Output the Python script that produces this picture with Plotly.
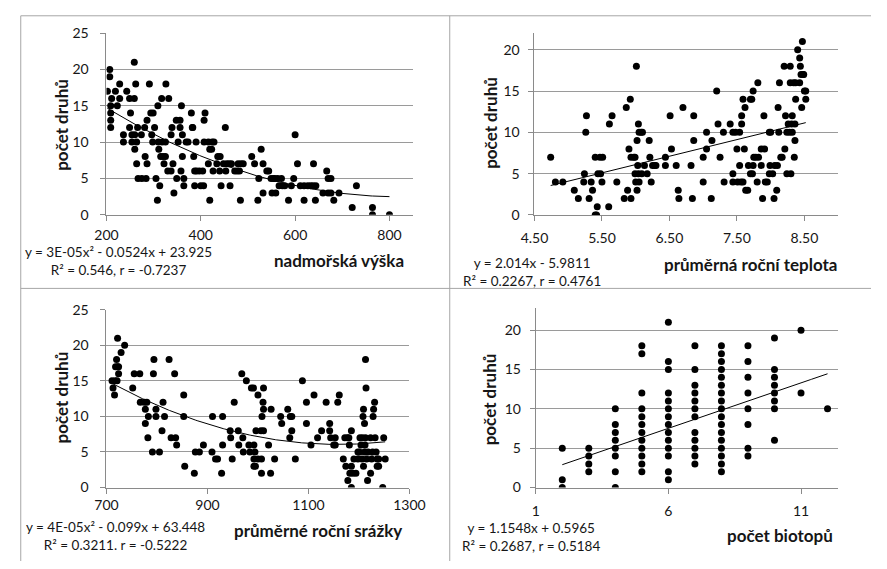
import numpy as np
import plotly.graph_objects as go

W, H = 887, 569

# --- nadmořská výška vs. počet druhů ---
alt_x = [202, 207, 207, 209, 209, 209, 209, 211, 219, 223, 228, 228, 236, 236, 243, 249, 249, 251, 254, 254,
         259, 259, 260, 260, 262, 264, 264, 266, 267, 274, 275, 281, 282, 284, 286, 286, 291, 294, 296, 299,
         298, 302, 305, 308, 309, 310, 311, 313, 315, 317, 318, 320, 322, 325, 326, 325, 330, 332, 337, 337,
         339, 341, 343, 348, 349, 352, 356, 356, 358, 359, 361, 361, 364, 364, 369, 373, 380, 382, 383, 385,
         387, 387, 390, 391, 397, 400, 404, 406, 407, 407, 409, 416, 416, 419, 419, 423, 424, 426, 428, 434,
         436, 440, 441, 443, 448, 452, 453, 455, 460, 462, 465, 472, 477, 479, 482, 484, 485, 490, 508, 514,
         521, 523, 528, 532, 532, 540, 544, 549, 551, 554, 557, 559, 563, 566, 571, 573, 578, 586, 592, 597,
         600, 605, 611, 619, 619, 627, 633, 638, 639, 643, 644, 659, 667, 670, 670, 676, 676, 682, 693, 721,
         730, 764, 764, 800]
alt_y = [17, 20, 19, 15, 14, 13, 12, 16, 17, 15, 18, 16, 11, 10, 17, 16, 12, 14, 11, 10,
         21, 16, 11, 9, 18, 10, 7, 12, 5, 11, 5, 12, 8, 5, 13, 7, 18, 14, 11, 14,
         10, 12, 5, 2, 15, 10, 9, 4, 8, 16, 10, 8, 7, 8, 18, 10, 6, 16, 6, 11,
         12, 7, 3, 13, 5, 10, 13, 12, 6, 15, 11, 8, 5, 4, 10, 10, 14, 12, 12, 8,
         6, 4, 10, 6, 6, 4, 6, 4, 13, 10, 14, 7, 10, 9, 2, 9, 10, 6, 10, 7,
         8, 6, 8, 4, 7, 12, 6, 7, 7, 4, 7, 6, 6, 7, 6, 2, 7, 7, 8, 7,
         2, 5, 9, 7, 3, 6, 6, 5, 3, 5, 5, 3, 5, 4, 5, 4, 4, 2, 4, 5,
         11, 7, 4, 2, 4, 4, 4, 4, 7, 2, 4, 3, 6, 5, 3, 5, 3, 2, 3, 1,
         4, 1, 0, 0]
alt_coef = [3.2e-05, -0.0524, 23.925]
alt_stats = ["0.546", "-0.7237"]

# --- průměrná roční teplota vs. počet druhů ---
tmp_x = [4.74, 4.81, 4.92, 5.09, 5.15, 5.23, 5.24, 5.26, 5.27, 5.31, 5.34, 5.36, 5.40, 5.40, 5.42, 5.43, 5.44,
         5.47, 5.48, 5.50, 5.51, 5.60, 5.61, 5.65, 5.72, 5.83, 5.86, 5.88, 5.90, 5.92, 5.93, 5.93, 5.97, 5.99,
         5.99, 6.00, 6.01, 6.02, 6.02, 6.03, 6.04, 6.04, 6.05, 6.05, 6.08, 6.09, 6.10, 6.13, 6.17, 6.20, 6.21,
         6.23, 6.25, 6.28, 6.30, 6.44, 6.44, 6.51, 6.53, 6.60, 6.63, 6.64, 6.70, 6.82, 6.84, 6.86, 6.86, 7.00,
         7.00, 7.05, 7.05, 7.12, 7.13, 7.20, 7.22, 7.25, 7.30, 7.31, 7.40, 7.44, 7.44, 7.44, 7.48, 7.50, 7.51,
         7.54, 7.54, 7.56, 7.57, 7.57, 7.59, 7.59, 7.61, 7.62, 7.63, 7.66, 7.67, 7.70, 7.70, 7.72, 7.73, 7.74,
         7.74, 7.75, 7.78, 7.80, 7.81, 7.82, 7.86, 7.86, 7.88, 7.90, 7.91, 7.92, 7.95, 7.98, 7.98, 7.99, 8.00,
         8.03, 8.05, 8.06, 8.09, 8.10, 8.11, 8.12, 8.13, 8.15, 8.17, 8.20, 8.21, 8.22, 8.24, 8.24, 8.26, 8.28,
         8.29, 8.29, 8.30, 8.31, 8.32, 8.32, 8.34, 8.35, 8.36, 8.36, 8.37, 8.37, 8.40, 8.43, 8.44, 8.45, 8.43,
         8.46, 8.47, 8.48, 8.49, 8.50, 8.52, 8.52]
tmp_y = [7, 4, 4, 3, 2, 4, 5, 10, 12, 2, 4, 3, 7, 0, 0, 1, 5,
         7, 5, 4, 7, 1, 11, 12, 4, 2, 13, 3, 8, 14, 2, 7, 7, 7,
         5, 4, 18, 9, 3, 6, 11, 5, 10, 4, 10, 5, 10, 6, 5, 9, 7,
         4, 6, 6, 6, 7, 6, 12, 8, 6, 3, 2, 13, 6, 2, 12, 9, 4,
         7, 10, 8, 2, 9, 15, 11, 7, 10, 4, 11, 10, 5, 4, 10, 8, 4,
         10, 6, 4, 11, 12, 14, 4, 8, 13, 3, 3, 6, 14, 5, 14, 5, 6,
         15, 7, 7, 4, 16, 7, 8, 6, 2, 12, 8, 4, 4, 10, 5, 6, 10,
         5, 2, 6, 3, 6, 13, 10, 16, 7, 7, 18, 8, 12, 10, 5, 11, 10,
         18, 16, 5, 11, 12, 10, 16, 7, 9, 11, 16, 14, 20, 19, 18, 17, 16,
         13, 21, 17, 17, 15, 15, 14]
tmp_coef = [2.014, -5.9811]
tmp_stats = ["0.2267", "0.4761"]

# --- průměrné roční srážky vs. počet druhů ---
srz_x = [711, 713, 716, 717, 718, 720, 721, 722, 722, 724, 724, 729, 736, 752, 755, 766, 767, 775, 777, 777,
         780, 782, 783, 791, 793, 794, 798, 798, 805, 810, 812, 815, 824, 828, 835, 837, 839, 853, 853, 855,
         874, 876, 884, 892, 909, 910, 916, 920, 928, 930, 930, 945, 946, 949, 953, 961, 962, 968, 970, 971,
         977, 982, 984, 987, 991, 992, 992, 992, 994, 995, 996, 1000, 1000, 1006, 1007, 1007, 1008, 1010,
         1011, 1011, 1011, 1021, 1025, 1026, 1033, 1045, 1047, 1059, 1063, 1064, 1067, 1067, 1074, 1088,
         1096, 1096, 1105, 1111, 1118, 1126, 1135, 1142, 1142, 1144, 1150, 1153, 1153, 1158, 1161, 1169,
         1172, 1174, 1177, 1178, 1180, 1181, 1182, 1185, 1185, 1185, 1188, 1190, 1194, 1198, 1198, 1201,
         1202, 1204, 1206, 1207, 1208, 1209, 1209, 1211, 1211, 1212, 1213, 1213, 1214, 1215, 1217, 1218,
         1223, 1223, 1225, 1227, 1228, 1229, 1231, 1232, 1234, 1236, 1236, 1239, 1239, 1247, 1249, 1252]
srz_y = [15, 14, 13, 15, 17, 18, 15, 17, 21, 16, 17, 19, 20, 14, 16, 16, 12, 12, 11, 9,
         12, 7, 10, 5, 16, 18, 11, 10, 5, 8, 12, 10, 18, 7, 16, 7, 6, 13, 10, 3,
         2, 5, 5, 6, 5, 10, 4, 4, 2, 6, 10, 8, 7, 4, 12, 8, 6, 16, 7, 5,
         15, 6, 5, 14, 14, 6, 4, 3, 5, 3, 8, 13, 4, 8, 2, 4, 10, 12,
         11, 14, 8, 6, 2, 11, 4, 10, 9, 11, 7, 10, 10, 8, 4, 15,
         12, 9, 6, 13, 7, 8, 12, 9, 8, 7, 6, 7, 6, 12, 13, 4,
         7, 3, 7, 1, 7, 6, 2, 8, 3, 0, 2, 4, 2, 4, 5, 5,
         7, 6, 4, 7, 10, 11, 3, 9, 5, 6, 18, 7, 14, 4, 1, 5,
         7, 2, 4, 5, 10, 11, 12, 7, 5, 4, 3, 4, 3, 0, 7, 4]
srz_coef = [4.27e-05, -0.099, 63.448]
srz_stats = ["0.3211", "-0.5222"]

# --- počet biotopů vs. počet druhů ---
bio_groups = {
    2: [5, 1, 0],
    3: [5, 4, 3, 2],
    4: [10, 8, 7, 6, 5, 4, 2, 0],
    5: [18, 17, 12, 10, 9, 8, 7, 6, 5, 4, 3, 2],
    6: [21, 16, 15, 12, 11, 10, 9, 8, 7, 6, 5, 4, 2, 1],
    7: [18, 15, 13, 12, 11, 10, 9, 7, 6, 5, 4, 3],
    8: [18, 17, 16, 15, 14, 13, 12, 11, 10, 9, 8, 7, 6, 5, 4, 3, 2],
    9: [18, 16, 14, 12, 10, 8, 5, 4],
    10: [19, 15, 14, 13, 12, 11, 10, 6],
    11: [20, 12],
    12: [10],
}
bio_x = [k for k, v in bio_groups.items() for _ in v]
bio_y = [y for v in bio_groups.values() for y in v]
bio_coef = [1.1548, 0.5965]
bio_stats = ["0.2687", "0.5184"]

FONT = "Lato"
GRID = "#9a9a9a"
AXIS = "#8a8a8a"
INK = "#161616"


def dom_x(a, b):
    return [a / W, b / W]


def dom_y(top, bottom):
    return [1 - bottom / H, 1 - top / H]


fig = go.Figure()

# xs/ys: extra label standoff for the x and y tick labels of each chart
panels = [
    dict(x=alt_x, y=alt_y, coef=alt_coef, dx=(95.7, 413), dy=(25, 212), xr=[200, 850],
         xt=[200, 400, 600, 800], xtt=None, yr=[0, 25], yt=[0, 5, 10, 15, 20, 25], xs=3, ys=9),
    dict(x=tmp_x, y=tmp_y, coef=tmp_coef, dx=(538.7, 853), dy=(25, 212.3), xr=[4.5, 9.0],
         xt=[4.5, 5.5, 6.5, 7.5, 8.5], xtt=["4.50", "5.50", "6.50", "7.50", "8.50"], yr=[0, 22],
         yt=[0, 5, 10, 15, 20], xs=5, ys=6),
    dict(x=srz_x, y=srz_y, coef=srz_coef, dx=(95.7, 409.3), dy=(310, 493.3), xr=[700, 1300],
         xt=[700, 900, 1100, 1300], xtt=None, yr=[0, 25], yt=[0, 5, 10, 15, 20, 25], xs=0, ys=9),
    dict(x=bio_x, y=bio_y, coef=bio_coef, dx=(540, 853), dy=(308.3, 493.3), xr=[1, 12.4],
         xt=[1, 6, 11], xtt=None, yr=[0, 22.8], yt=[0, 5, 10, 15, 20], xs=6, ys=6),
]

layout_axes = {}
for i, p in enumerate(panels, start=1):
    xa = "x" if i == 1 else f"x{i}"
    ya = "y" if i == 1 else f"y{i}"
    fig.add_trace(go.Scatter(
        x=p["x"], y=p["y"], mode="markers", xaxis=xa, yaxis=ya,
        marker=dict(color="black", size=7, line=dict(width=0)), showlegend=False,
        hoverinfo="x+y"))
    # fitted trend across the observed x span
    xs = np.linspace(min(p["x"]), max(p["x"]), 200)
    ys = np.polyval(p["coef"], xs)
    fig.add_trace(go.Scatter(
        x=xs, y=ys, mode="lines", xaxis=xa, yaxis=ya,
        line=dict(color="black", width=1), showlegend=False, hoverinfo="skip"))

    xkey = "xaxis" if i == 1 else f"xaxis{i}"
    ykey = "yaxis" if i == 1 else f"yaxis{i}"
    layout_axes[xkey] = dict(
        domain=dom_x(*p["dx"]), range=p["xr"], anchor=ya,
        tickmode="array", tickvals=p["xt"], ticktext=p["xtt"] if p["xtt"] else [str(v) for v in p["xt"]],
        showgrid=False, zeroline=False, showline=True, linecolor=AXIS, linewidth=1,
        ticks="outside", ticklen=5, tickcolor=AXIS, ticklabelstandoff=p["xs"],
        tickfont=dict(family=FONT, size=14, color=INK), fixedrange=True)
    layout_axes[ykey] = dict(
        domain=dom_y(*p["dy"]), range=p["yr"], anchor=xa,
        tickmode="array", tickvals=p["yt"],
        showgrid=True, gridcolor=GRID, gridwidth=1, zeroline=False,
        showline=True, linecolor=AXIS, linewidth=1,
        ticks="outside", ticklen=5, tickcolor=AXIS, ticklabelstandoff=p["ys"],
        tickfont=dict(family=FONT, size=14, color=INK), fixedrange=True)


def eq_quad(c):
    return f"y = {c[0]:.0E}x² - {abs(c[1])}x + {c[2]}"


def eq_lin(c):
    return f"y = {c[0]}x {'-' if c[1] < 0 else '+'} {abs(c[1])}"


annots = []


def txt(text, x, y, size=13.5, bold=False, angle=0):
    annots.append(dict(
        text=f"<b>{text}</b>" if bold else text, x=x / W, y=1 - y / H, xref="paper", yref="paper",
        showarrow=False, textangle=angle, xanchor="center", yanchor="middle", align="center",
        borderpad=0, font=dict(family=FONT, size=size, color=INK)))


# y-axis titles
for (cx, cy) in [(49, 119), (493, 117), (49, 400), (493, 402)]:
    txt("počet druhů", cx, cy, size=17, bold=True, angle=-90)

# x-axis titles
txt("nadmořská výška", 336, 259, size=17, bold=True)
txt("průměrná roční teplota", 762, 263, size=17, bold=True)
txt("průměrné roční srážky", 315, 538, size=17, bold=True)
txt("počet biotopů", 793, 543, size=17, bold=True)

# trend equations with correlation summaries
txt(f"{eq_quad(alt_coef)}<br>R² = {alt_stats[0]}, r = {alt_stats[1]}", 108, 260)
txt(f"{eq_lin(tmp_coef)}<br>R² = {tmp_stats[0]}, r = {tmp_stats[1]}", 536, 271)
txt(f"{eq_quad(srz_coef)}<br>R² = {srz_stats[0]}. r = {srz_stats[1]}", 105, 543)
txt(f"{eq_lin(bio_coef)}<br>R² = {bio_stats[0]}, r = {bio_stats[1]}", 535, 544)

# frames separating the four charts
shapes = []
for (x0, y0, x1, y1) in [(7, 7, 7, 569), (7, 7, 887, 7), (451, 7, 451, 569), (7, 288, 887, 288)]:
    shapes.append(dict(type="line", xref="paper", yref="paper",
                       x0=x0 / W, y0=1 - y0 / H, x1=x1 / W, y1=1 - y1 / H,
                       line=dict(color="#a6a6a6", width=1)))

fig.update_layout(
    width=W, height=H, margin=dict(l=0, r=0, t=0, b=0),
    paper_bgcolor="white", plot_bgcolor="white",
    annotations=annots, shapes=shapes, **layout_axes)

fig.write_html("out.html")
